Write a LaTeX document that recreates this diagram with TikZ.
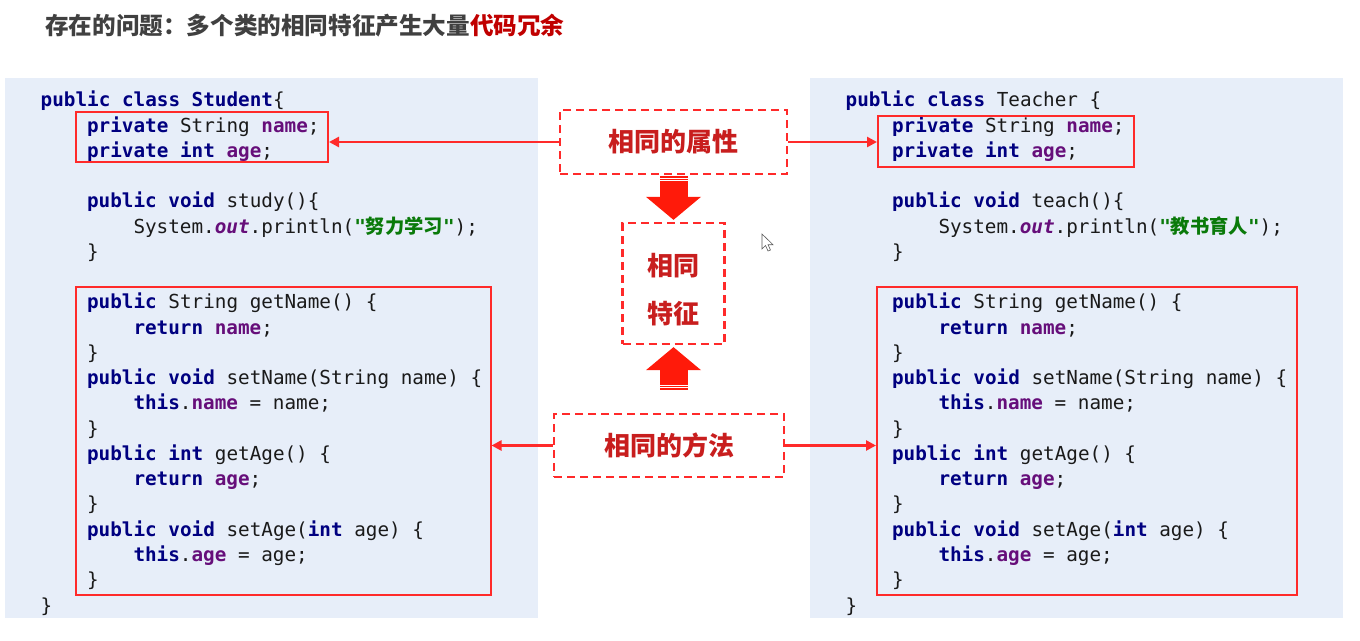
\documentclass[tikz,border=0pt]{standalone}
\usepackage{fontspec}
\setmonofont{DejaVu Sans Mono}
\newfontfamily\cjk{Noto Sans CJK SC}
\usetikzlibrary{%
  arrows.meta,%
  calc%
}
\definecolor{panelblue}{HTML}{E7EEF9}
\definecolor{titlegray}{HTML}{404040}
\definecolor{titlered}{HTML}{C00000}
\definecolor{kwblue}{HTML}{000080}
\definecolor{fldpurple}{HTML}{660E7A}
\definecolor{strgreen}{HTML}{0A7A0A}
\definecolor{codeblack}{HTML}{1A1A1A}
\definecolor{boxred}{HTML}{FF2A2A}
\definecolor{labelred}{HTML}{C81E1E}
\definecolor{blockred}{HTML}{FF1A0A}
\newcommand\kw[1]{\textcolor{kwblue}{\bfseries #1}}
\newcommand\fld[1]{\textcolor{fldpurple}{\bfseries #1}}
\newcommand\outf{\textcolor{fldpurple}{\bfseries\itshape out}}
\newcommand\zh[1]{\textcolor{strgreen}{\bfseries"{\cjk #1}"}}
\newcommand\methodlines{8/1/{\kw{public} String getName() \{},9/2/{\kw{return} \fld{name};},10/1/{\}},11/1/{\kw{public void} setName(String name) \{},12/2/{\kw{this}.\fld{name} = name;},13/1/{\}},14/1/{\kw{public int} getAge() \{},15/2/{\kw{return} \fld{age};},16/1/{\}},17/1/{\kw{public void} setAge(\kw{int} age) \{},18/2/{\kw{this}.\fld{age} = age;},19/1/{\}},20/0/{\}}}
\tikzset{
  codeline/.style={anchor=base west, inner sep=0pt, text=codeblack, font=\ttfamily\fontsize{19.3}{24}\selectfont},
  redbox/.style={draw=boxred, line width=2pt, inner sep=0pt},
  dashbox/.style={draw=boxred, line width=2.3pt, dash pattern=on 8pt off 5pt, inner sep=0pt, text=labelred, font=\cjk\bfseries\fontsize{26}{48}\selectfont},
  redarrow/.style={draw=boxred, line width=2.5pt, -{Triangle[length=10pt,width=10pt]}},
  blockarrow/.style={draw=blockred, line width=28pt, -{Triangle[length=23pt,width=55pt,line width=0pt]}}
}
\begin{document}
\begin{tikzpicture}[x=1pt,y=-1pt]
\useasboundingbox (0,0) rectangle (1360,640);
\node[anchor=west, inner sep=0pt, text=titlegray, font=\cjk\bfseries\fontsize{23.6}{28}\selectfont] (title) at (45,25.5) {存在的问题：多个类的相同特征产生大量\textcolor{titlered}{代码冗余}};
% code panels
\fill[panelblue] (5,78) rectangle (538,618);
\fill[panelblue] (810,78) rectangle (1343,618);
\foreach \row/\lvl/\txt in {0/0/{\kw{public class Student}\{},1/1/{\kw{private} String \fld{name};},2/1/{\kw{private int} \fld{age};},4/1/{\kw{public void} study()\{},5/2/{System.\outf.println(\zh{努力学习});},6/1/{\}}}
  \node[codeline] (s\row) at ({40.5+46.4*\lvl},{106.8+25.26*\row}) {\txt};
\foreach \row/\lvl/\txt in \methodlines
  \node[codeline] (s\row) at ({40.5+46.4*\lvl},{106.8+25.26*\row}) {\txt};
\foreach \row/\lvl/\txt in {0/0/{\kw{public class} Teacher \{},1/1/{\kw{private} String \fld{name};},2/1/{\kw{private int} \fld{age};},4/1/{\kw{public void} teach()\{},5/2/{System.\outf.println(\zh{教书育人});},6/1/{\}}}
  \node[codeline] (t\row) at ({845.5+46.4*\lvl},{106.8+25.26*\row}) {\txt};
\foreach \row/\lvl/\txt in \methodlines
  \node[codeline] (t\row) at ({845.5+46.4*\lvl},{106.8+25.26*\row}) {\txt};
% boxes round the shared parts
\node[redbox, minimum width=252pt, minimum height=50pt] (sattr) at (202,137) {};
\node[redbox, minimum width=415pt, minimum height=308pt] (smeth) at (283,441) {};
\node[redbox, minimum width=256pt, minimum height=51pt] (tattr) at (1006,141.5) {};
\node[redbox, minimum width=420pt, minimum height=308pt] (tmeth) at (1087,441) {};
% middle labels
\node[dashbox, minimum width=227pt, minimum height=64pt] (attr) at (673.5,142) {相同的属性};
\node[dashbox, minimum width=102pt, minimum height=121pt, align=center] (feat) at (673.5,283.5) {\rule{0pt}{34pt}相同\\特征};
\node[dashbox, minimum width=230pt, minimum height=63pt] (meth) at (669,445.5) {相同的方法};
\draw[redarrow] (attr.west) -- (attr.west -| sattr.east);
\draw[redarrow] (attr.east) -- (attr.east -| tattr.west);
\draw[redarrow] (meth.west) -- (meth.west -| smeth.east);
\draw[redarrow] (meth.east) -- (meth.east -| tmeth.west);
% block arrows
\coordinate (dtop) at ($(feat.north |- attr.south)+(0,8)$);
\coordinate (ubot) at ($(feat.south |- meth.north)+(0,-30)$);
\draw[blockarrow] (dtop) -- ($(feat.north)+(0,-2)$);
\draw[blockarrow] (ubot) -- ($(feat.south)+(0,2)$);
\foreach \d in {-7,-4.5,-2}
  \fill[blockred] ($(dtop)+(-14,\d)$) rectangle +(28,1.5);
\foreach \d in {0.5,3,5.5}
  \fill[blockred] ($(ubot)+(-14,\d)$) rectangle +(28,1.5);
% mouse pointer
\filldraw[fill=white, draw=gray!70!black, line width=0.6pt] (762,234) -- ++(0,15) -- ++(3.5,-3.5) -- ++(2.5,5.5) -- ++(2.5,-1) -- ++(-2.5,-5.3) -- ++(5,0) -- cycle;
\end{tikzpicture}
\end{document}
